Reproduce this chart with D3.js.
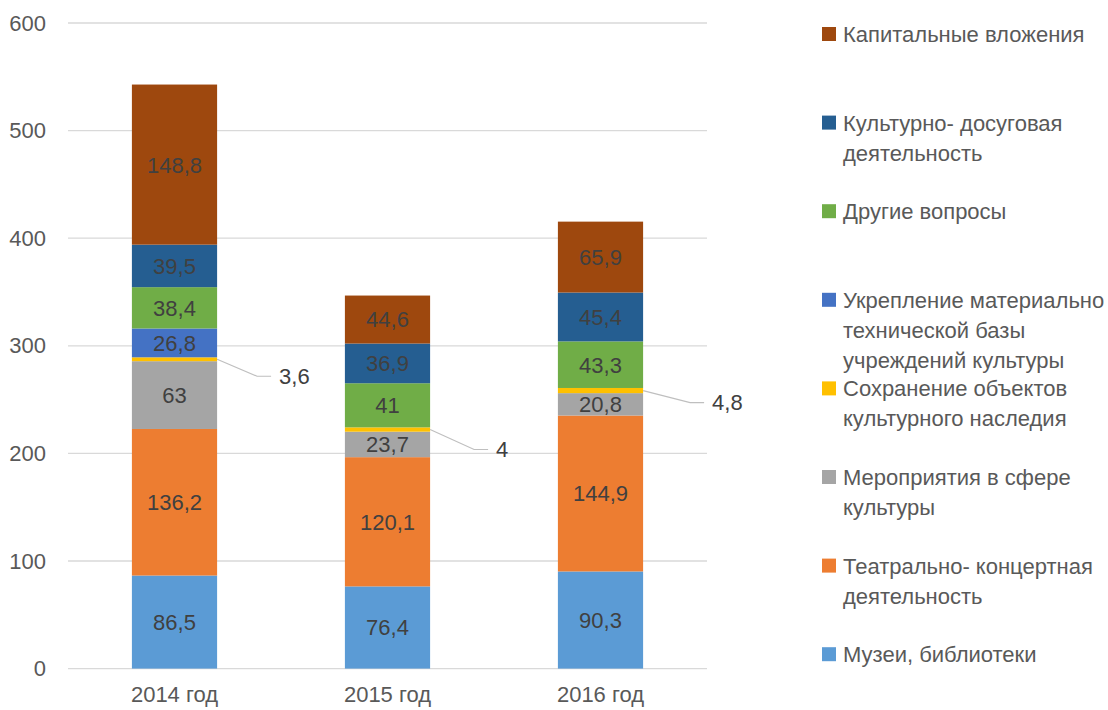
<!DOCTYPE html>
<html>
<head>
<meta charset="utf-8">
<script src="https://cdn.jsdelivr.net/npm/d3@7"></script>
<style>
  body { margin: 0; background: #fff; }
  svg text { font-family: "Liberation Sans", Arial, sans-serif; }
</style>
</head>
<body>
<script>
// Chart data (bottom of stack first)
const years = ["2014 год", "2015 год", "2016 год"];
const seriesNames = [
  "Музеи, библиотеки",
  "Театрально- концертная\nдеятельность",
  "Мероприятия в сфере\nкультуры",
  "Сохранение объектов\nкультурного наследия",
  "Укрепление материально\nтехнической базы\nучреждений культуры",
  "Другие вопросы",
  "Культурно- досуговая\nдеятельность",
  "Капитальные вложения"
];
const museums = [86.5, 76.4, 90.3];
const theatre = [136.2, 120.1, 144.9];
const events = [63, 23.7, 20.8];
const heritage = [3.6, 4, 4.8];
const equipment = [26.8, 0, 0];
const other = [38.4, 41, 43.3];
const leisure = [39.5, 36.9, 45.4];
const capital = [148.8, 44.6, 65.9];
const yTicks = [0, 100, 200, 300, 400, 500, 600];

const seriesValues = [museums, theatre, events, heritage, equipment, other, leisure, capital];
const colors = ["#5B9BD5", "#ED7D31", "#A5A5A5", "#FFC000", "#4472C4", "#70AD47", "#255E91", "#9E480E"];

// Build table rows for d3.stack
const table = years.map((y, i) => {
  const row = { year: y };
  seriesNames.forEach((s, k) => row[s] = seriesValues[k][i]);
  return row;
});

const w = 1108, h = 710;
const plotLeft = 68, plotRight = 707, plotTop = 23, plotBottom = 668.6;
const fontSize = "22px";

const svg = d3.select("body").append("svg")
  .attr("width", w)
  .attr("height", h);

const xScale = d3.scaleBand()
  .domain(years)
  .range([plotLeft, plotRight])
  .paddingInner(0.6)
  .paddingOuter(0.3);

const yScale = d3.scaleLinear()
  .domain([0, 600])
  .range([plotBottom, plotTop]);

// Gridlines
svg.append("g")
  .selectAll("line")
  .data(yTicks)
  .enter()
  .append("line")
  .attr("x1", plotLeft)
  .attr("x2", plotRight)
  .attr("y1", d => yScale(d))
  .attr("y2", d => yScale(d))
  .attr("stroke", "#D9D9D9")
  .attr("stroke-width", 1.3);

// Y axis labels
const yAxis = d3.axisLeft(yScale).tickValues(yTicks).tickSize(0).tickPadding(22);
svg.append("g")
  .attr("transform", `translate(${plotLeft}, 0)`)
  .call(yAxis)
  .call(g => g.select(".domain").remove())
  .call(g => g.selectAll("text")
    .attr("fill", "#595959")
    .style("font-size", fontSize));

// X axis labels
const xAxis = d3.axisBottom(xScale).tickSize(0).tickPadding(18);
svg.append("g")
  .attr("transform", `translate(0, ${plotBottom})`)
  .call(xAxis)
  .call(g => g.select(".domain").remove())
  .call(g => g.selectAll("text")
    .attr("fill", "#595959")
    .style("font-size", fontSize));

// Stacked bars
const stacked = d3.stack().keys(seriesNames)(table);

const layers = svg.append("g")
  .selectAll("g")
  .data(stacked)
  .enter()
  .append("g")
  .attr("fill", (d, i) => colors[i]);

layers.selectAll("rect")
  .data(d => d)
  .enter()
  .append("rect")
  .attr("x", d => xScale(d.data.year))
  .attr("y", d => yScale(d[1]))
  .attr("width", xScale.bandwidth())
  .attr("height", d => yScale(d[0]) - yScale(d[1]));

const fmt = v => String(v).replace(".", ",");

// Data labels inside the bars
layers.selectAll("text")
  .data(d => d.filter(p => p[1] - p[0] >= 10))
  .enter()
  .append("text")
  .attr("x", d => xScale(d.data.year) + xScale.bandwidth() / 2)
  .attr("y", d => yScale((d[0] + d[1]) / 2))
  .attr("dy", "0.36em")
  .attr("text-anchor", "middle")
  .attr("fill", "#404040")
  .style("font-size", fontSize)
  .text(d => fmt(+(d[1] - d[0]).toFixed(1)));

// Callouts for the thin segments
const calloutOffsets = [[40, 17], [44, 20], [47, 12]];
const small = stacked[3];
small.forEach((p, i) => {
  const x0 = xScale(p.data.year) + xScale.bandwidth();
  const y0 = yScale((p[0] + p[1]) / 2);
  const [dx, dy] = calloutOffsets[i];
  svg.append("polyline")
    .attr("points", `${x0},${y0} ${x0 + dx},${y0 + dy} ${x0 + dx + 14},${y0 + dy}`)
    .attr("fill", "none")
    .attr("stroke", "#BFBFBF")
    .attr("stroke-width", 1.2);
  svg.append("text")
    .attr("x", x0 + dx + 22)
    .attr("y", y0 + dy)
    .attr("dy", "0.36em")
    .attr("fill", "#404040")
    .style("font-size", fontSize)
    .text(fmt(+(p[1] - p[0]).toFixed(1)));
});

// Legend, top entry = top of stack
const legend = svg.append("g")
  .selectAll("g")
  .data(seriesNames.map((s, i) => ({ name: s, color: colors[i] })).reverse())
  .enter()
  .append("g")
  .attr("transform", (d, i) => `translate(822, ${34 + i * 88.6})`);

legend.append("rect")
  .attr("x", 0)
  .attr("y", -7)
  .attr("width", 14)
  .attr("height", 14)
  .attr("fill", d => d.color);

legend.append("text")
  .attr("fill", "#595959")
  .style("font-size", fontSize)
  .selectAll("tspan")
  .data(d => d.name.split("\n"))
  .enter()
  .append("tspan")
  .attr("x", 21)
  .attr("y", (d, i) => i * 30)
  .attr("dy", "0.36em")
  .text(d => d);
</script>
</body>
</html>
